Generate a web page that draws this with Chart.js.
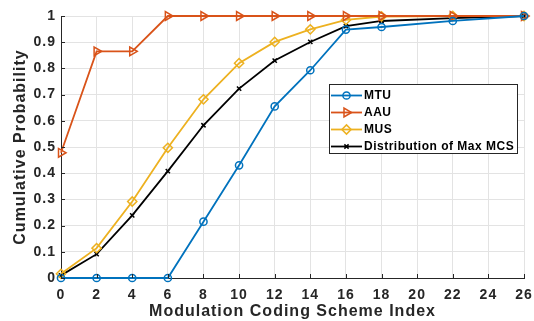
<!DOCTYPE html>
<html>
<head>
<meta charset="utf-8">
<script src="https://cdn.jsdelivr.net/npm/chart.js@4/dist/chart.umd.min.js"></script>
<style>
  html, body { margin: 0; padding: 0; background: #fff; }
  #wrap { width: 534px; height: 321px; }
</style>
</head>
<body>
<div id="wrap"><canvas id="cdf" width="534" height="321"></canvas></div>
<script>
// MCS index values at which each CDF was sampled
const mcsIndex = [0, 2, 4, 6, 8, 10, 12, 14, 16, 18, 22, 26];

// Cumulative probability per scheme
const mtuCdf    = [0, 0, 0, 0, 0.215, 0.43, 0.655, 0.793, 0.948, 0.958, 0.981, 1];
const aauCdf    = [0.478, 0.865, 0.865, 1, 1, 1, 1, 1, 1, 1, 1, 1];
const musCdf    = [0.016, 0.114, 0.292, 0.497, 0.682, 0.82, 0.901, 0.949, 0.985, 0.998, 1, 1];
const maxMcsCdf = [0.01, 0.091, 0.239, 0.408, 0.583, 0.723, 0.83, 0.901, 0.961, 0.981, 0.992, 1];

const seriesLabels = ['MTU', 'AAU', 'MUS', 'Distribution of Max MCS'];

const xTicks = [0, 2, 4, 6, 8, 10, 12, 14, 16, 18, 20, 22, 24, 26];
const yTicks = [0, 0.1, 0.2, 0.3, 0.4, 0.5, 0.6, 0.7, 0.8, 0.9, 1];

const AXIS = '#262626';
const GRID = '#e3e3e3';
const FONT = '"Liberation Sans", Arial, sans-serif';

function toPoints(ys) {
  return mcsIndex.map((x, i) => ({ x: x, y: ys[i] }));
}

function series(label, ys, color, style, radius, rotation) {
  return {
    label: label,
    data: toPoints(ys),
    showLine: true,
    borderColor: color,
    backgroundColor: 'rgba(0,0,0,0)',
    borderWidth: 1.8,
    pointStyle: style,
    pointRadius: radius,
    pointRotation: rotation || 0,
    pointBorderWidth: 1.5,
    pointBorderColor: color,
    pointBackgroundColor: 'rgba(0,0,0,0)',
    clip: false,
    tension: 0
  };
}

// Slightly wider lettering for axis text
const textSpacing = {
  id: 'textSpacing',
  beforeLayout(chart) { chart.ctx.letterSpacing = '1px'; },
  beforeDraw(chart) { chart.ctx.letterSpacing = '1px'; }
};

// Inward tick marks along both axes
const inwardTicks = {
  id: 'inwardTicks',
  afterDatasetsDraw(chart) {
    const { ctx, chartArea, scales } = chart;
    ctx.save();
    ctx.strokeStyle = AXIS;
    ctx.lineWidth = 1;
    xTicks.forEach(v => {
      const px = Math.round(scales.x.getPixelForValue(v)) + 0.5;
      ctx.beginPath();
      ctx.moveTo(px, chartArea.bottom);
      ctx.lineTo(px, chartArea.bottom - 4);
      ctx.stroke();
    });
    yTicks.forEach(v => {
      const py = Math.round(scales.y.getPixelForValue(v)) + 0.5;
      ctx.beginPath();
      ctx.moveTo(chartArea.left, py);
      ctx.lineTo(chartArea.left + 4, py);
      ctx.stroke();
    });
    ctx.restore();
  }
};

// Boxed legend placed inside the plot area
const boxLegend = {
  id: 'boxLegend',
  afterDraw(chart) {
    const ctx = chart.ctx;
    const box = { x: 329, y: 84, w: 188, h: 69 };
    const rowY = [95.5, 112.5, 129.5, 146.5];
    ctx.save();
    ctx.letterSpacing = '0.5px';
    ctx.fillStyle = '#ffffff';
    ctx.fillRect(box.x, box.y, box.w, box.h);
    ctx.strokeStyle = AXIS;
    ctx.lineWidth = 1;
    ctx.strokeRect(box.x + 0.5, box.y + 0.5, box.w, box.h);
    chart.data.datasets.forEach((ds, i) => {
      const y = rowY[i];
      ctx.strokeStyle = ds.borderColor;
      ctx.lineWidth = ds.borderWidth;
      ctx.beginPath();
      ctx.moveTo(331, y);
      ctx.lineTo(362, y);
      ctx.stroke();
      ctx.lineWidth = ds.pointBorderWidth;
      ctx.fillStyle = 'rgba(0,0,0,0)';
      Chart.helpers.drawPoint(ctx, {
        pointStyle: ds.pointStyle,
        radius: ds.pointRadius,
        rotation: ds.pointRotation,
        borderWidth: ds.pointBorderWidth
      }, 346.5, y);
      ctx.fillStyle = '#000000';
      ctx.font = 'bold 12px ' + FONT;
      ctx.textAlign = 'left';
      ctx.textBaseline = 'middle';
      ctx.fillText(ds.label, 364, y + 0.5);
    });
    ctx.restore();
  }
};

new Chart(document.getElementById('cdf'), {
  type: 'scatter',
  data: {
    datasets: [
      series(seriesLabels[0], mtuCdf, '#0072BD', 'circle', 3.6),
      series(seriesLabels[1], aauCdf, '#D95319', 'triangle', 5, 90),
      series(seriesLabels[2], musCdf, '#EDB120', 'rectRot', 4.6),
      series(seriesLabels[3], maxMcsCdf, '#000000', 'crossRot', 3)
    ]
  },
  options: {
    responsive: false,
    animation: false,
    events: [],
    layout: { padding: { left: 0, right: 10, top: 16, bottom: 0 } },
    plugins: {
      legend: { display: false },
      tooltip: { enabled: false }
    },
    scales: {
      x: {
        type: 'linear',
        min: 0,
        max: 26,
        afterBuildTicks(scale) { scale.ticks = xTicks.map(v => ({ value: v })); },
        afterFit(scale) {
          scale.height = 43;
          scale.paddingLeft = 0;
          scale.paddingRight = 0;
        },
        grid: { color: GRID, lineWidth: 1, drawTicks: false },
        border: { display: true, color: AXIS, width: 1 },
        ticks: {
          color: AXIS,
          font: { family: FONT, size: 14, weight: 'bold' },
          padding: 9,
          maxRotation: 0,
          autoSkip: false
        },
        title: {
          display: true,
          text: 'Modulation Coding Scheme Index',
          color: AXIS,
          font: { family: FONT, size: 16, weight: 'bold' },
          padding: { top: 0, bottom: 0 }
        }
      },
      y: {
        type: 'linear',
        min: 0,
        max: 1,
        afterBuildTicks(scale) { scale.ticks = yTicks.map(v => ({ value: v })); },
        afterFit(scale) {
          scale.width = 61;
          scale.paddingTop = 0;
          scale.paddingBottom = 0;
        },
        grid: { color: GRID, lineWidth: 1, drawTicks: false },
        border: { display: true, color: AXIS, width: 1 },
        ticks: {
          color: AXIS,
          font: { family: FONT, size: 14, weight: 'bold' },
          padding: 5,
          autoSkip: false,
          callback: v => String(Math.round(v * 10) / 10)
        },
        title: {
          display: true,
          text: 'Cumulative Probability',
          color: AXIS,
          font: { family: FONT, size: 16, weight: 'bold' },
          padding: { top: 11, bottom: 0 }
        }
      }
    }
  },
  plugins: [textSpacing, inwardTicks, boxLegend]
});
</script>
</body>
</html>
